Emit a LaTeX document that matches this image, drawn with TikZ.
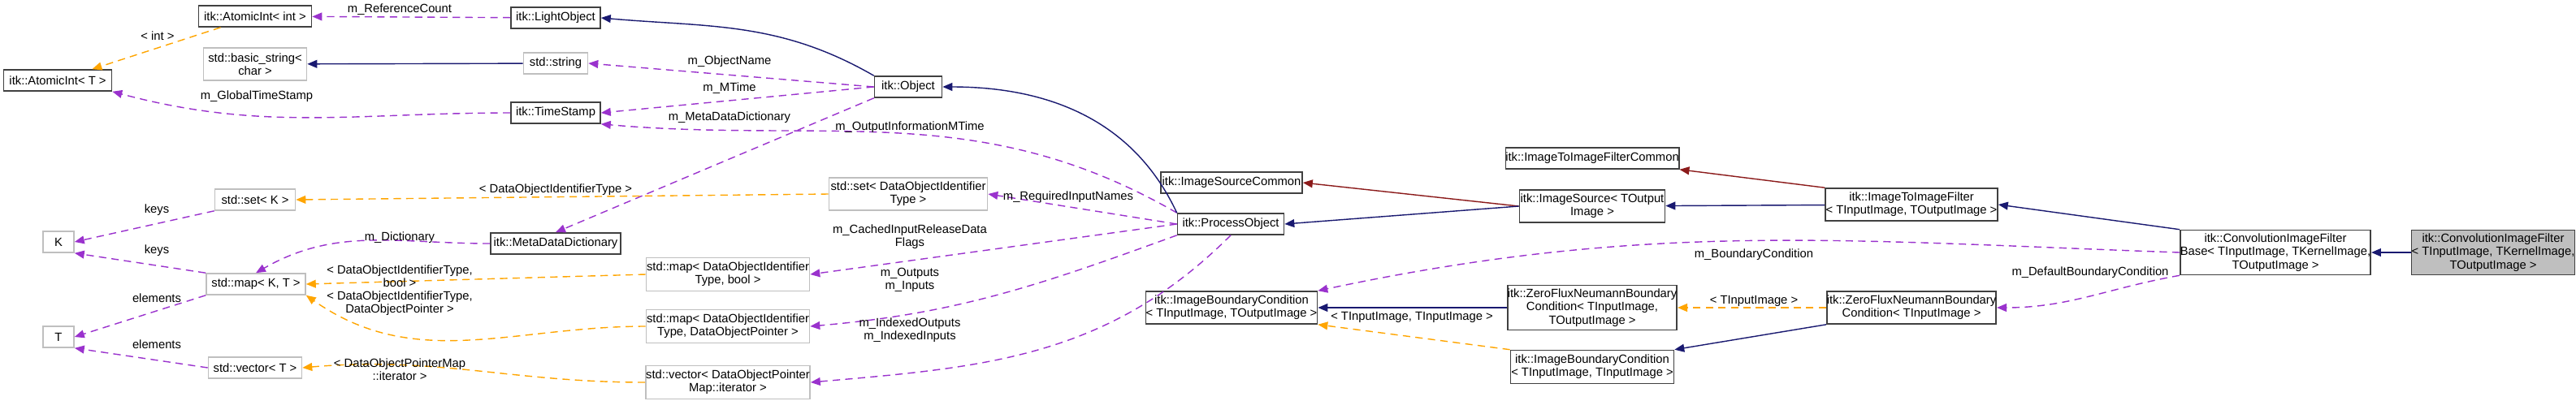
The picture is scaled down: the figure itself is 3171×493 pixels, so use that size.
\documentclass[tikz,border=0pt]{standalone}
\usepackage{fontspec}
\setmainfont{Liberation Sans}
\usetikzlibrary{arrows.meta}
\definecolor{memb}{HTML}{9A32CD}
\definecolor{tmpl}{HTML}{FFA500}
\definecolor{inh}{HTML}{191970}
\definecolor{prot}{HTML}{8B1A1A}
\definecolor{grayline}{HTML}{BFBFBF}
\tikzset{
  cls/.style={draw=black!75, line width=0.45pt, inner sep=0pt, align=center, font=\fontsize{4.2}{4.6}\selectfont},
  ext/.style={cls, draw=grayline},
  lbl/.style={inner sep=0pt, align=center, font=\fontsize{4.2}{4.6}\selectfont},
  edge/.style={line width=0.4pt, -{Triangle[length=3.4pt,width=2.8pt]}},
  member/.style={edge, color=memb, dash pattern=on 2.6pt off 1.8pt},
  tpl/.style={edge, color=tmpl, dash pattern=on 2.6pt off 1.8pt},
  pub/.style={edge, color=inh},
  prv/.style={edge, color=prot},
}
\begin{document}
\begin{tikzpicture}[x=0.01cm, y=-0.01cm]
    \useasboundingbox (0,0) rectangle (3171,493);
    % left columns
    \node[cls, minimum width=1.39cm, minimum height=0.26cm] (atomicint) at (314,20) {itk::AtomicInt\textless{} int \textgreater};
    \node[cls, minimum width=1.33cm, minimum height=0.26cm] (atomicT) at (71,99) {itk::AtomicInt\textless{} T \textgreater};
    \node[ext, minimum width=1.27cm, minimum height=0.40cm] (basicstr) at (314,79) {std::basic\_string\textless\\char \textgreater};
    \node[ext, minimum width=0.99cm, minimum height=0.26cm] (setK) at (314,246) {std::set\textless{} K \textgreater};
    \node[ext, minimum width=0.38cm, minimum height=0.26cm] (K) at (72,298) {K};
    \node[ext, minimum width=1.22cm, minimum height=0.26cm] (mapKT) at (315,350) {std::map\textless{} K, T \textgreater};
    \node[ext, minimum width=0.38cm, minimum height=0.26cm] (T) at (72,415) {T};
    \node[ext, minimum width=1.15cm, minimum height=0.26cm] (vecT) at (314,453) {std::vector\textless{} T \textgreater};
    \node[cls, minimum width=1.10cm, minimum height=0.26cm] (lightobj) at (684,22) {itk::LightObject};
    \node[ext, minimum width=0.79cm, minimum height=0.26cm] (string) at (684,78) {std::string};
    \node[cls, minimum width=1.10cm, minimum height=0.26cm] (timestamp) at (684,139) {itk::TimeStamp};
    \node[cls, minimum width=1.60cm, minimum height=0.26cm] (metadict) at (684,300) {itk::MetaDataDictionary};
    % middle
    \node[cls, minimum width=0.83cm, minimum height=0.26cm] (object) at (1118,107) {itk::Object};
    \node[ext, minimum width=1.95cm, minimum height=0.40cm] (setdoit) at (1118,239) {std::set\textless{} DataObjectIdentifier\\Type \textgreater};
    \node[ext, minimum width=2.01cm, minimum height=0.41cm] (mapbool) at (896,338) {std::map\textless{} DataObjectIdentifier\\Type, bool \textgreater};
    \node[ext, minimum width=2.01cm, minimum height=0.41cm] (mapptr) at (896,402) {std::map\textless{} DataObjectIdentifier\\Type, DataObjectPointer \textgreater};
    \node[ext, minimum width=2.02cm, minimum height=0.41cm] (vecmap) at (896,471) {std::vector\textless{} DataObjectPointer\\Map::iterator \textgreater};
    \node[cls, minimum width=1.31cm, minimum height=0.26cm] (procobj) at (1515,276) {itk::ProcessObject};
    \node[cls, minimum width=1.74cm, minimum height=0.26cm] (srccommon) at (1516,225) {itk::ImageSourceCommon};
    \node[cls, minimum width=2.11cm, minimum height=0.40cm] (ibcout) at (1516,379) {itk::ImageBoundaryCondition\\\textless{} TInputImage, TOutputImage \textgreater};
    % right
    \node[cls, minimum width=2.13cm, minimum height=0.26cm] (filtcommon) at (1960,195) {itk::ImageToImageFilterCommon};
    \node[cls, minimum width=1.79cm, minimum height=0.40cm] (imgsource) at (1960,254) {itk::ImageSource\textless{} TOutput\\Image \textgreater};
    \node[cls, minimum width=2.07cm, minimum height=0.55cm] (zfout) at (1960,379) {itk::ZeroFluxNeumannBoundary\\Condition\textless{} TInputImage,\\TOutputImage \textgreater};
    \node[cls, minimum width=2.01cm, minimum height=0.41cm] (ibcin) at (1960,452) {itk::ImageBoundaryCondition\\\textless{} TInputImage, TInputImage \textgreater};
    \node[cls, minimum width=2.12cm, minimum height=0.40cm] (imgfilter) at (2353,252) {itk::ImageToImageFilter\\\textless{} TInputImage, TOutputImage \textgreater};
    \node[cls, minimum width=2.07cm, minimum height=0.40cm] (zfin) at (2353,379) {itk::ZeroFluxNeumannBoundary\\Condition\textless{} TInputImage \textgreater};
    \node[cls, minimum width=2.32cm, minimum height=0.55cm] (convbase) at (2801,311) {itk::ConvolutionImageFilter\\Base\textless{} TInputImage, TKernelImage,\\TOutputImage \textgreater};
    \node[cls, fill=grayline, minimum width=2.00cm, minimum height=0.55cm] (convfilt) at (3069,311) {itk::ConvolutionImageFilter\\\textless{} TInputImage, TKernelImage,\\TOutputImage \textgreater};

    % connectors
    \draw[tpl] (atomicint) -- (atomicT);
    \draw[member] (lightobj) -- (atomicint);
    \draw[pub] (string) -- (basicstr);
    \draw[member] (timestamp.west) to[out=180,in=-15] (atomicT.south east);
    \draw[pub] (object.north west) to[out=150,in=-5] (lightobj.east);
    \draw[member] (object.west) -- (string.east);
    \draw[member] (object.west) -- (timestamp.east);
    \draw[member] (object.south west) -- (metadict.north);
    \draw[member] (procobj.north west) to[out=150,in=-5] (timestamp.south east);
    \draw[pub] (procobj.north west) to[out=115,in=0] (object.east);
    \draw[member] (procobj.west) -- (setdoit.east);
    \draw[member] (procobj.west) -- (mapbool.east);
    \draw[member] (procobj.south west) to[out=200,in=5] (mapptr.east);
    \draw[member] (procobj.south) to[out=225,in=5] (vecmap.east);
    \draw[tpl] (setdoit.west) -- (setK.east);
    \draw[member] (setK.south west) -- (K.east);
    \draw[member] (metadict.west) to[out=180,in=30] (mapKT.north);
    \draw[member] (mapKT.north west) -- (K.south east);
    \draw[member] (mapKT.south west) -- (T.east);
    \draw[member] (vecT.west) -- (T.south east);
    \draw[tpl] (mapbool.west) -- (mapKT.east);
    \draw[tpl] (mapptr.west) to[out=180,in=-35] (mapKT.south east);
    \draw[tpl] (vecmap.west) to[out=180,in=5] (vecT.east);
    \draw[prv] (imgsource.west) -- (srccommon.east);
    \draw[pub] (imgsource.west) -- (procobj.east);
    \draw[prv] (imgfilter.north west) -- (filtcommon.south east);
    \draw[pub] (imgfilter) -- (imgsource);
    \draw[pub] (convbase.north west) -- (imgfilter.east);
    \draw[pub] (convfilt) -- (convbase);
    \draw[member] (convbase.west) to[out=178,in=12] (ibcout.north east);
    \draw[member] (convbase.south west) to[out=190,in=0] (zfin.east);
    \draw[pub] (zfout) -- (ibcout);
    \draw[tpl] (ibcin.north west) -- (ibcout.south east);
    \draw[tpl] (zfin) -- (zfout);
    \draw[pub] (zfin.south west) -- (ibcin.north east);

    % labels
    \node[lbl] (l1) at (194,44) {\textless{} int \textgreater};
    \node[lbl] (l2) at (492,12) {m\_ReferenceCount};
    \node[lbl] (l3) at (316,119) {m\_GlobalTimeStamp};
    \node[lbl] (l4) at (898,76) {m\_ObjectName};
    \node[lbl] (l5) at (898,109) {m\_MTime};
    \node[lbl] (l6) at (898,145) {m\_MetaDataDictionary};
    \node[lbl] (l7) at (1120,157) {m\_OutputInformationMTime};
    \node[lbl] (l8) at (684,234) {\textless{} DataObjectIdentifierType \textgreater};
    \node[lbl] (l9) at (193,259) {keys};
    \node[lbl] (l10) at (193,309) {keys};
    \node[lbl] (l11) at (492,293) {m\_Dictionary};
    \node[lbl] (l12) at (193,367) {elements};
    \node[lbl] (l13) at (193,424) {elements};
    \node[lbl] (l14) at (492,340) {\textless{} DataObjectIdentifierType,\\bool \textgreater};
    \node[lbl] (l15) at (492,374) {\textless{} DataObjectIdentifierType,\\DataObjectPointer \textgreater};
    \node[lbl] (l16) at (492,455) {\textless{} DataObjectPointerMap\\::iterator \textgreater};
    \node[lbl] (l17) at (1315,243) {m\_RequiredInputNames};
    \node[lbl] (l18) at (1120,292) {m\_CachedInputReleaseData\\Flags};
    \node[lbl] (l19) at (1120,345) {m\_Outputs\\m\_Inputs};
    \node[lbl] (l20) at (1120,407) {m\_IndexedOutputs\\m\_IndexedInputs};
    \node[lbl] (l21) at (2159,314) {m\_BoundaryCondition};
    \node[lbl] (l22) at (1738,391) {\textless{} TInputImage, TInputImage \textgreater};
    \node[lbl] (l23) at (2159,371) {\textless{} TInputImage \textgreater};
    \node[lbl] (l24) at (2573,336) {m\_DefaultBoundaryCondition};
\end{tikzpicture}
\end{document}
